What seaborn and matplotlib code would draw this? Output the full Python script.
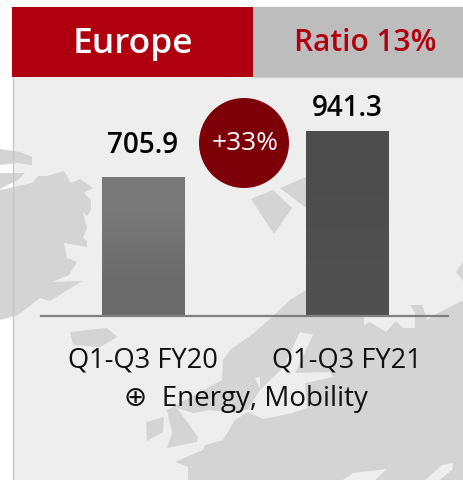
import matplotlib
matplotlib.use("Agg")
import matplotlib.pyplot as plt
from matplotlib.patches import Polygon, Rectangle, Circle
import seaborn as sns
import pandas as pd

periods = ["Q1-Q3 FY20", "Q1-Q3 FY21"]
sales = [705.9, 941.3]
bar_colors = ["#717171", "#4f4f4f"]
bar_top_grey = [0x78 / 255, 0x4d / 255]
bar_bottom_grey = [0x6b / 255, 0x50 / 255]
region = "Europe"
ratio = "Ratio 13%"
growth = "+33%"
note = "⊕  Energy, Mobility"

W, H = 464, 481
sns.set_theme(style="white")
plt.rcParams["font.family"] = ["Open Sans", "DejaVu Sans"]
fig = plt.figure(figsize=(W / 100, H / 100), dpi=100, facecolor="white")

# backdrop in pixel coordinates
bg = fig.add_axes([0, 0, 1, 1], zorder=0)
bg.set_xlim(0, W)
bg.set_ylim(H - 1, -1)
bg.axis("off")
LAND, SEA = "#d4d4d4", "#eeeeee"
bg.add_patch(Rectangle((13, 77), W - 13, H - 76, fc=SEA, ec="none", zorder=1))
land = [
    [(0,149),(20,152),(32,157),(32,165),(17,163),(0,165)],
    [(0,173),(25,173),(18,180),(0,189)],
    [(0,190),(32,183),(38,176),(47,176),(64,171),(71,183),(80,179),(93,188),(84,193),(91,200),(91,210),
     (87,216),(83,212),(87,228),(83,238),(87,241),(87,247),(64,243),(67,258),(77,262),(69,275),(52,282),
     (82,281),(50,301),(40,298),(18,315),(0,320)],
    [(251,199),(273,190),(292,208),(274,234)],
    [(280,188),(306,177),(306,208)],
    [(464,260),(456,272),(464,282)],
    [(70,332),(107,328),(117,337),(100,347),(73,345)],
    [(146,422),(164,417),(163,432),(147,441)],
    [(254,333),(273,316),(290,300),(306,290),(364,310),(364,325),(370,322),(386,332),(396,321),(403,328),
     (415,328),(415,313),(410,305),(422,305),(427,320),(438,313),(464,300),(464,482),(188,482),(188,467),
     (175,462),(203,450),(205,445),(223,440),(235,420),(248,412),(263,419),(293,413),(307,408),(305,383),
     (333,377),(330,372),(295,373),(313,335),(300,332),(283,368),(267,383),(260,390),(248,409),(237,413),
     (210,410),(193,413),(177,408),(198,437),(197,442),(167,448),(172,433),(167,410),(222,380),(223,360),
     (230,350)],
]
seas = [
    [(255,378),(260,377),(260,388)],
    [(340,482),(353,473),(387,469),(373,482)],
    [(423,482),(442,465),(453,463),(452,470),(437,482)],
]
for pts in land:
    bg.add_patch(Polygon(pts, closed=True, fc=LAND, ec="none", zorder=2))
for pts in seas:
    bg.add_patch(Polygon(pts, closed=True, fc=SEA, ec="none", zorder=3))
bg.plot([13, 13], [77, H], color="#c6c6c6", lw=0.9, zorder=4)
bg.plot([253, W], [6.5, 6.5], color="#d2d2d2", lw=0.9, zorder=4)
bg.plot([253, W], [77, 77], color="#d2d2d2", lw=0.9, zorder=4)
bg.add_patch(Rectangle((12, 7), 241, 70, fc="#b0000f", ec="none", zorder=5))
bg.add_patch(Rectangle((253, 7), W - 253, 70, fc="#bdbdbd", ec="none", zorder=5))
bg.text(133, 43, region, color="white", fontsize=25.5, fontweight="semibold", ha="center", va="center", zorder=6)
bg.text(365, 42, ratio, color="#b0000f", fontsize=21.5, fontweight="semibold", ha="center", va="center", zorder=6)
bg.add_patch(Circle((244, 143), 45, fc="#7d0008", ec="none", zorder=6))
bg.text(245, 143, growth, color="white", fontsize=19, ha="center", va="center", zorder=7)
bg.text(246, 398, note, color="#111111", fontsize=20, ha="center", va="center", zorder=7)

# chart
ax = fig.add_axes([41 / W, 1 - 317 / H, 407 / W, 239 / H], zorder=1)
ax.patch.set_alpha(0)
df = pd.DataFrame({"period": periods, "sales": sales})
sns.barplot(data=df, x="period", y="sales", hue="period", palette=bar_colors, legend=False,
            width=0.402, saturation=1, edgecolor="none", linewidth=0, ax=ax)
# soft vertical shading of each bar, taken from the bar's own geometry
bars = [c[0] for c in ax.containers]
for bar, top, bottom in zip(bars, bar_top_grey, bar_bottom_grey):
    ax.imshow([[top], [bottom]], cmap="gray", vmin=0, vmax=1, aspect="auto", interpolation="bilinear",
              extent=(bar.get_x(), bar.get_x() + bar.get_width(), 0, bar.get_height()), zorder=bar.get_zorder() + 0.1)
ax.set_xlim(-0.5, 1.495)
ax.set_ylim(0, 239 / 0.1955)
ax.set_xlabel("")
ax.set_ylabel("")
ax.set_yticks([])
ax.tick_params(axis="x", length=0, pad=21, labelsize=19.6, labelcolor="#111111")
sns.despine(ax=ax, left=True)
ax.spines["bottom"].set_color("#808080")
ax.spines["bottom"].set_linewidth(1.6)
ax.spines["bottom"].set_zorder(5)
for c, pad in zip(ax.containers, [14, 7]):
    ax.bar_label(c, fmt="%.1f", padding=pad, fontsize=20, fontweight="semibold", color="black")

fig.savefig("out.png", dpi=100)
